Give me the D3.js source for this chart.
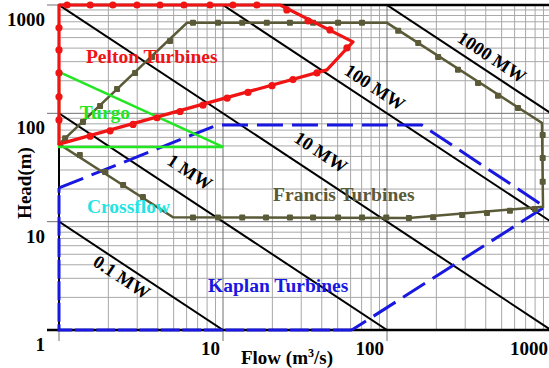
<!DOCTYPE html>
<html>
<head>
<meta charset="utf-8">
<script src="https://cdn.jsdelivr.net/npm/d3@7/dist/d3.min.js"></script>
<style>
  body { margin: 0; background: #fff; }
  svg { display: block; }
  text { font-family: "Liberation Serif", "DejaVu Serif", serif; font-weight: bold; }
</style>
</head>
<body>
<svg id="chart"></svg>
<script>
// flow (m3/s), head (m)
var xTicks = [10, 100, 1000];
var yTicks = [1, 10, 100, 1000];

var pelton = [[1, 1000], [22.3, 1000], [62, 456], [43, 252], [1, 52]];
var peltonDots = [
  [1.12, 1000], [1.55, 1000], [2.13, 1000], [2.99, 1000], [4.13, 1000], [5.78, 1000],
  [8.33, 1000], [11.5, 1000], [16.1, 1000],
  [24.5, 901], [33, 713], [44.9, 589], [57, 402],
  [37.4, 236], [26.7, 205], [19.9, 180], [14.2, 156], [10.6, 138], [7.55, 119],
  [5.47, 104], [3.96, 91], [2.83, 79], [2.05, 69], [1.55, 61.5],
  [1, 87], [1, 142], [1, 236], [1, 385], [1, 615]
];

var turgo = [[1, 241], [10, 49], [1, 49]];

var francis = [[1, 52], [6.03, 684], [100, 684], [881, 81.5], [894, 13.7], [136, 10.8], [4.96, 11]];
var francisDots = [
  [1.09, 59], [1.40, 83], [1.78, 117], [2.26, 168], [2.91, 236], [3.69, 332], [4.75, 466],
  [6.56, 684], [9.33, 684], [13.1, 684], [18.5, 684], [25.6, 684], [35.4, 684], [50.3, 684], [70.4, 684],
  [117, 577], [155, 447], [205, 332], [271, 252], [359, 191], [475, 145], [629, 112],
  [890, 63], [890, 38.7], [890, 23.3],
  [798, 13.1], [562, 12.6], [407, 12.0], [287, 11.5], [191, 11.0], [136, 10.8],
  [99, 10.9], [70.4, 10.9], [50.3, 10.9], [35.4, 10.9], [25.6, 10.9], [18.3, 10.9],
  [13.1, 10.9], [9.33, 10.9], [6.56, 10.9],
  [3.25, 16.9], [2.46, 21.8], [1.91, 28.8], [1.34, 41.3]
];

var kaplan = [[1, 1], [1, 20.5], [9.2, 78], [163, 78], [919, 13.7], [61, 1]];

// constant power lines: flow * head
var powerQH = [10, 100, 1000, 1e4, 1e5];
var powerNames = ["0.1 MW", "1 MW", "10 MW", "100 MW", "1000 MW"];
var powerLabelAt = [[2.42, 3.09], [6.3, 28.8], [39.6, 44], [84.5, 175], [437, 332]];

var regionNames = ["Pelton Turbines", "Turgo", "Crossflow", "Francis Turbines", "Kaplan Turbines"];
var regionLabelAt = [[1.46, 292], [1.34, 88.8], [1.48, 12.0], [20.2, 15.5], [8.1, 2.24]];
var regionColors = ["#f01414", "#22e622", "#22e4e4", "#5a5a38", "#1818e0"];

var W = 549, H = 368;
var svg = d3.select("#chart").attr("width", W).attr("height", H);

var x = d3.scaleLog().domain([1, 1000]).range([59, 551]);
var y = d3.scaleLog().domain([1, 1000]).range([330, 5]);

var minorX = [], minorY = [];
[1, 10, 100].forEach(function (d) {
  for (var k = 2; k <= 9; k++) { minorX.push(d * k); minorY.push(d * k); }
});

svg.append("defs").append("clipPath").attr("id", "plot")
  .append("rect").attr("x", 59).attr("y", 5).attr("width", 490).attr("height", 325);

var grid = svg.append("g");
grid.selectAll(".vx").data(minorX).enter().append("line")
  .attr("x1", function (d) { return x(d); }).attr("x2", function (d) { return x(d); })
  .attr("y1", y(1000)).attr("y2", y(1))
  .attr("stroke", "#a8a8a8").attr("stroke-width", 1);
grid.selectAll(".hy").data(minorY).enter().append("line")
  .attr("y1", function (d) { return y(d); }).attr("y2", function (d) { return y(d); })
  .attr("x1", x(1)).attr("x2", W)
  .attr("stroke", "#a8a8a8").attr("stroke-width", 1);
// decade lines stick out past the frame
grid.selectAll(".mx").data([1, 10, 100]).enter().append("line")
  .attr("x1", function (d) { return x(d); }).attr("x2", function (d) { return x(d); })
  .attr("y1", y(1000)).attr("y2", y(1) + 11)
  .attr("stroke", "#707070").attr("stroke-width", 1);
grid.selectAll(".my").data([10, 100, 1000]).enter().append("line")
  .attr("y1", function (d) { return y(d); }).attr("y2", function (d) { return y(d); })
  .attr("x1", x(1) - 12).attr("x2", W)
  .attr("stroke", "#707070").attr("stroke-width", 1);

// frame
svg.append("line").attr("x1", x(1)).attr("x2", W).attr("y1", y(1000)).attr("y2", y(1000))
  .attr("stroke", "#000").attr("stroke-width", 2.5);
svg.append("line").attr("x1", x(1) - 12).attr("x2", W).attr("y1", y(1)).attr("y2", y(1))
  .attr("stroke", "#000").attr("stroke-width", 2.5);
svg.append("line").attr("x1", x(1)).attr("x2", x(1)).attr("y1", y(1000)).attr("y2", y(1))
  .attr("stroke", "#000").attr("stroke-width", 2);

var lineGen = d3.line().x(function (d) { return x(d[0]); }).y(function (d) { return y(d[1]); });
var ringGen = d3.line().x(function (d) { return x(d[0]); }).y(function (d) { return y(d[1]); })
  .curve(d3.curveLinearClosed);

var power = svg.append("g").attr("clip-path", "url(#plot)");
power.selectAll("path").data(powerQH).enter().append("path")
  .attr("d", function (k) { return lineGen([[1, k], [k, 1]]); })
  .attr("fill", "none").attr("stroke", "#000").attr("stroke-width", 2);

var angle = Math.atan2(y(1) - y(10), x(10) - x(1)) * 180 / Math.PI;
svg.selectAll(".plab").data(powerNames).enter().append("text")
  .attr("transform", function (d, i) {
    var p = powerLabelAt[i];
    return "translate(" + x(p[0]) + "," + y(p[1]) + ") rotate(" + angle + ")";
  })
  .attr("text-anchor", "middle").attr("dy", "0.35em")
  .attr("font-size", 18.5).attr("fill", "#000")
  .text(function (d) { return d; });

// Kaplan: the part lying on the axes has short gaps, the rest long dashes
svg.append("path").attr("d", lineGen([kaplan[5], kaplan[0], kaplan[1]]))
  .attr("fill", "none").attr("stroke", regionColors[4]).attr("stroke-width", 3)
  .attr("stroke-dasharray", "19,2.5");
svg.append("path").attr("d", lineGen(kaplan.slice(1)))
  .attr("fill", "none").attr("stroke", regionColors[4]).attr("stroke-width", 3)
  .attr("stroke-dasharray", "26,9");

// Francis
svg.append("path").attr("d", ringGen(francis))
  .attr("fill", "none").attr("stroke", regionColors[3]).attr("stroke-width", 2.5);
svg.selectAll(".fdot").data(francisDots).enter().append("rect")
  .attr("x", function (d) { return x(d[0]) - 3; }).attr("y", function (d) { return y(d[1]) - 3; })
  .attr("width", 6).attr("height", 6).attr("rx", 1)
  .attr("fill", regionColors[3]);

// Turgo
svg.append("path").attr("d", ringGen(turgo))
  .attr("fill", "none").attr("stroke", regionColors[1]).attr("stroke-width", 2.5);

// Pelton
svg.append("path").attr("d", ringGen(pelton))
  .attr("fill", "none").attr("stroke", regionColors[0]).attr("stroke-width", 3.2)
  .attr("stroke-linejoin", "round");
svg.selectAll(".pdot").data(peltonDots).enter().append("circle")
  .attr("cx", function (d) { return x(d[0]); }).attr("cy", function (d) { return y(d[1]); })
  .attr("r", 3.6).attr("fill", regionColors[0]);

svg.selectAll(".rlab").data(regionNames).enter().append("text")
  .attr("x", function (d, i) { return x(regionLabelAt[i][0]); })
  .attr("y", function (d, i) { return y(regionLabelAt[i][1]); })
  .attr("font-size", 19.5)
  .attr("fill", function (d, i) { return regionColors[i]; })
  .text(function (d) { return d; });

// tick labels
svg.selectAll(".ylab").data(yTicks).enter().append("text")
  .attr("x", 45).attr("y", function (d) { return y(d) + 21; })
  .attr("text-anchor", "end").attr("font-size", 19).attr("fill", "#000")
  .text(function (d) { return d; });
svg.selectAll(".xlab").data(xTicks).enter().append("text")
  .attr("x", function (d) { return x(d) - 3; }).attr("y", 355)
  .attr("text-anchor", "end").attr("font-size", 19).attr("fill", "#000")
  .text(function (d) { return d; });

var xt = svg.append("text").attr("x", 287).attr("y", 364)
  .attr("text-anchor", "middle").attr("font-size", 19).attr("fill", "#000");
xt.append("tspan").text("Flow (m");
xt.append("tspan").attr("font-size", 12).attr("dy", -7).text("3");
xt.append("tspan").attr("dy", 7).text("/s)");

svg.append("text").attr("transform", "translate(31,183) rotate(-90)")
  .attr("text-anchor", "middle").attr("font-size", 19).attr("fill", "#000")
  .text("Head(m)");
</script>
</body>
</html>
